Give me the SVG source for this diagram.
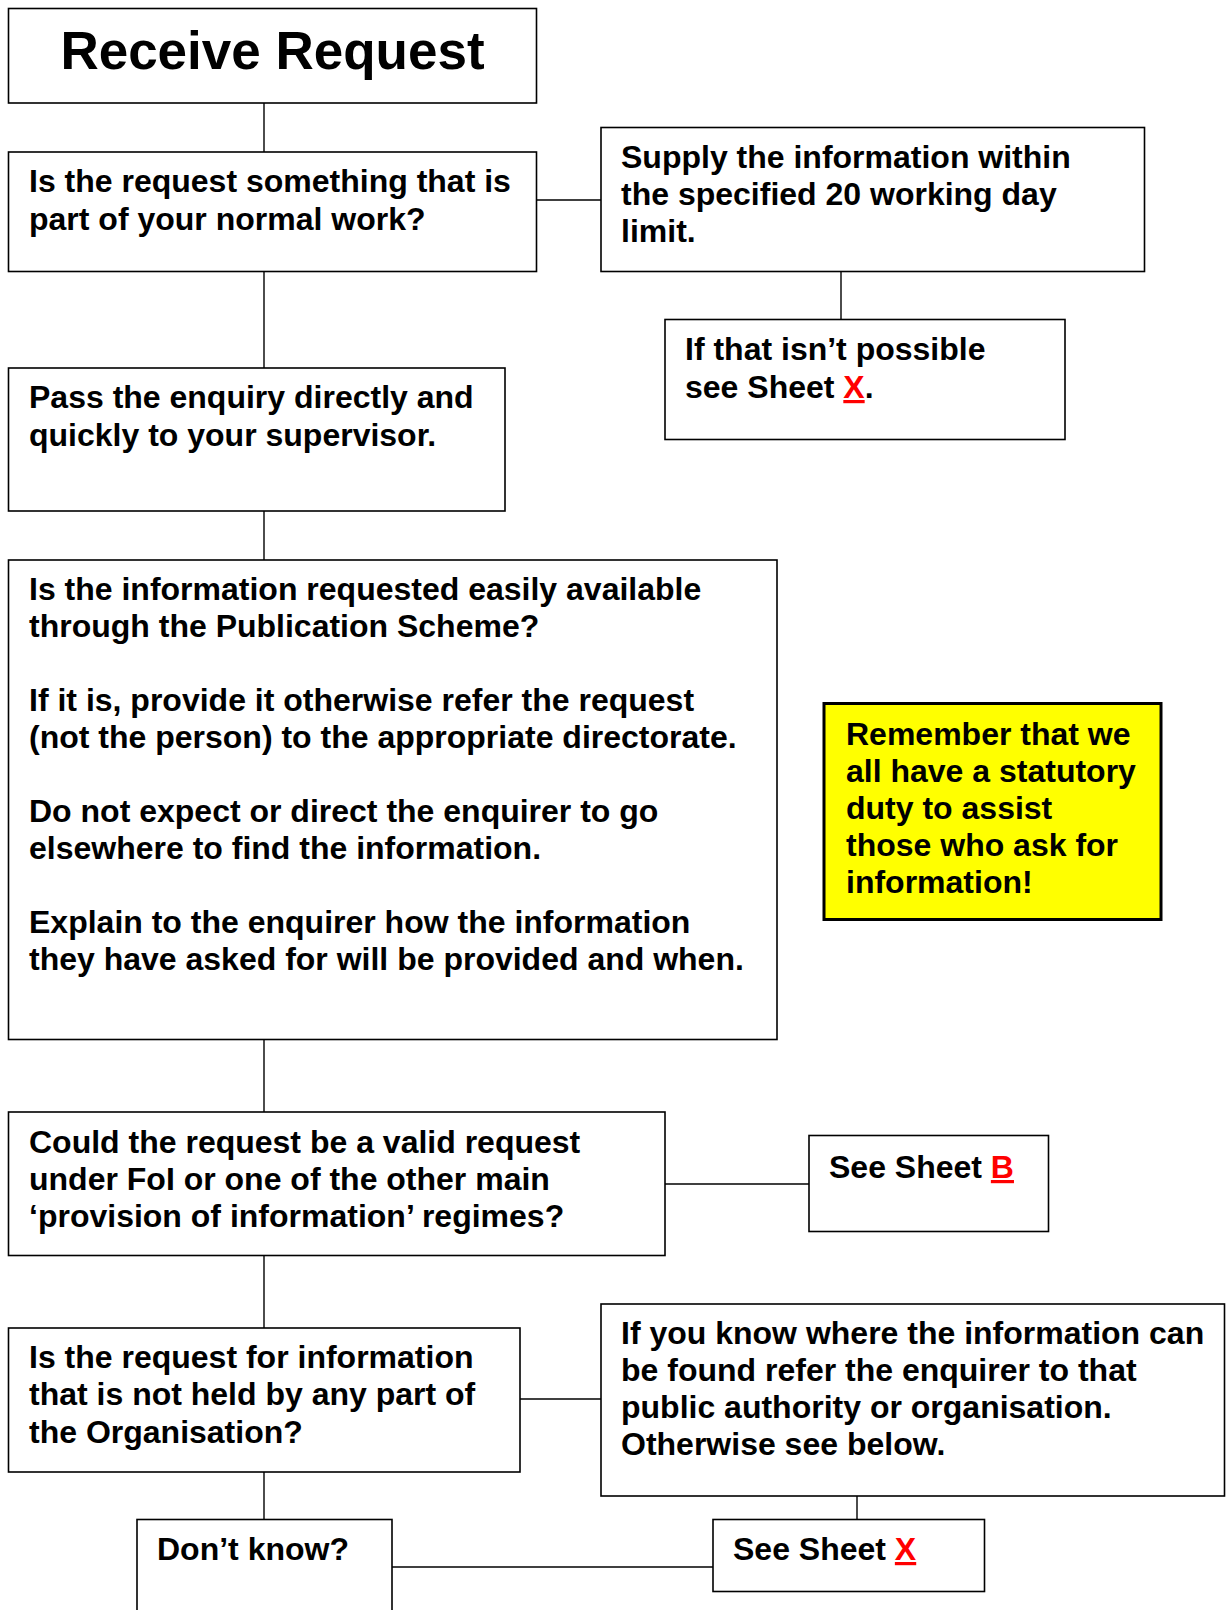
<svg xmlns="http://www.w3.org/2000/svg" width="1229" height="1610" viewBox="0 0 1229 1610">
<style>
.box{fill:#fff;stroke:#000;stroke-width:1.6}
.note{fill:#ffff00;stroke:#000;stroke-width:3}
.conn{stroke:#000;stroke-width:1.4;fill:none}
.t{font-family:"Liberation Sans",Arial,sans-serif;font-weight:bold;font-size:32px;fill:#000}
.title{font-family:"Liberation Sans",Arial,sans-serif;font-weight:bold;font-size:53px;fill:#000}
.ref{fill:#ff0000;text-decoration:underline}
</style>
<rect width="1229" height="1610" fill="#fff"/>
<g id="connectors">
<line class="conn" x1="264" y1="103" x2="264" y2="152"/>
<line class="conn" x1="536" y1="200" x2="601" y2="200"/>
<line class="conn" x1="841" y1="272" x2="841" y2="319"/>
<line class="conn" x1="264" y1="271" x2="264" y2="368"/>
<line class="conn" x1="264" y1="511" x2="264" y2="560"/>
<line class="conn" x1="264" y1="1039" x2="264" y2="1112"/>
<line class="conn" x1="665" y1="1184" x2="809" y2="1184"/>
<line class="conn" x1="264" y1="1256" x2="264" y2="1328"/>
<line class="conn" x1="520" y1="1399" x2="601" y2="1399"/>
<line class="conn" x1="857" y1="1496" x2="857" y2="1520"/>
<line class="conn" x1="264" y1="1472" x2="264" y2="1520"/>
<line class="conn" x1="392" y1="1567" x2="713" y2="1567"/>
</g>
<g id="receive">
<rect class="box" x="8.5" y="8.5" width="528" height="94.5"/>
<text class="title" x="272.5" y="69" text-anchor="middle">Receive Request</text>
</g>
<g id="normal-work">
<rect class="box" x="8.5" y="152" width="528" height="119.5"/>
<text class="t" x="29" y="192">Is the request something that is</text>
<text class="t" x="29" y="230">part of your normal work?</text>
</g>
<g id="supply">
<rect class="box" x="601" y="127.5" width="543.5" height="144"/>
<text class="t" x="621" y="168">Supply the information within</text>
<text class="t" x="621" y="205">the specified 20 working day</text>
<text class="t" x="621" y="242">limit.</text>
</g>
<g id="not-possible">
<rect class="box" x="665" y="319.5" width="400" height="120"/>
<text class="t" x="685" y="360">If that isn’t possible</text>
<text class="t" x="685" y="398">see Sheet <tspan class="ref">X</tspan>.</text>
</g>
<g id="pass">
<rect class="box" x="8.5" y="368" width="496.5" height="143"/>
<text class="t" x="29" y="408">Pass the enquiry directly and</text>
<text class="t" x="29" y="446">quickly to your supervisor.</text>
</g>
<g id="publication">
<rect class="box" x="8.5" y="560" width="768.5" height="479.5"/>
<text class="t" x="29" y="600">Is the information requested easily available</text>
<text class="t" x="29" y="637">through the Publication Scheme?</text>
<text class="t" x="29" y="711">If it is, provide it otherwise refer the request</text>
<text class="t" x="29" y="748">(not the person) to the appropriate directorate.</text>
<text class="t" x="29" y="822">Do not expect or direct the enquirer to go</text>
<text class="t" x="29" y="859">elsewhere to find the information.</text>
<text class="t" x="29" y="933">Explain to the enquirer how the information</text>
<text class="t" x="29" y="970">they have asked for will be provided and when.</text>
</g>
<g id="reminder">
<rect class="note" x="824" y="703.5" width="337" height="216"/>
<text class="t" x="846" y="745">Remember that we</text>
<text class="t" x="846" y="782">all have a statutory</text>
<text class="t" x="846" y="819">duty to assist</text>
<text class="t" x="846" y="856">those who ask for</text>
<text class="t" x="846" y="893">information!</text>
</g>
<g id="foi">
<rect class="box" x="8.5" y="1112" width="656.5" height="143.5"/>
<text class="t" x="29" y="1153">Could the request be a valid request</text>
<text class="t" x="29" y="1190">under FoI or one of the other main</text>
<text class="t" x="29" y="1227">‘provision of information’ regimes?</text>
</g>
<g id="sheet-b">
<rect class="box" x="809" y="1135.5" width="239.5" height="96"/>
<text class="t" x="829" y="1178">See Sheet <tspan class="ref">B</tspan></text>
</g>
<g id="not-held">
<rect class="box" x="8.5" y="1328" width="511.5" height="144"/>
<text class="t" x="29" y="1368">Is the request for information</text>
<text class="t" x="29" y="1405">that is not held by any part of</text>
<text class="t" x="29" y="1443">the Organisation?</text>
</g>
<g id="know-where">
<rect class="box" x="601" y="1304" width="623.5" height="192"/>
<text class="t" x="621" y="1344">If you know where the information can</text>
<text class="t" x="621" y="1381">be found refer the enquirer to that</text>
<text class="t" x="621" y="1418">public authority or organisation.</text>
<text class="t" x="621" y="1455">Otherwise see below.</text>
</g>
<g id="dont-know">
<rect class="box" x="137" y="1519.5" width="255" height="120"/>
<text class="t" x="157" y="1560">Don’t know?</text>
</g>
<g id="sheet-x">
<rect class="box" x="713" y="1519.5" width="271.5" height="72"/>
<text class="t" x="733" y="1560">See Sheet <tspan class="ref">X</tspan></text>
</g>
</svg>
